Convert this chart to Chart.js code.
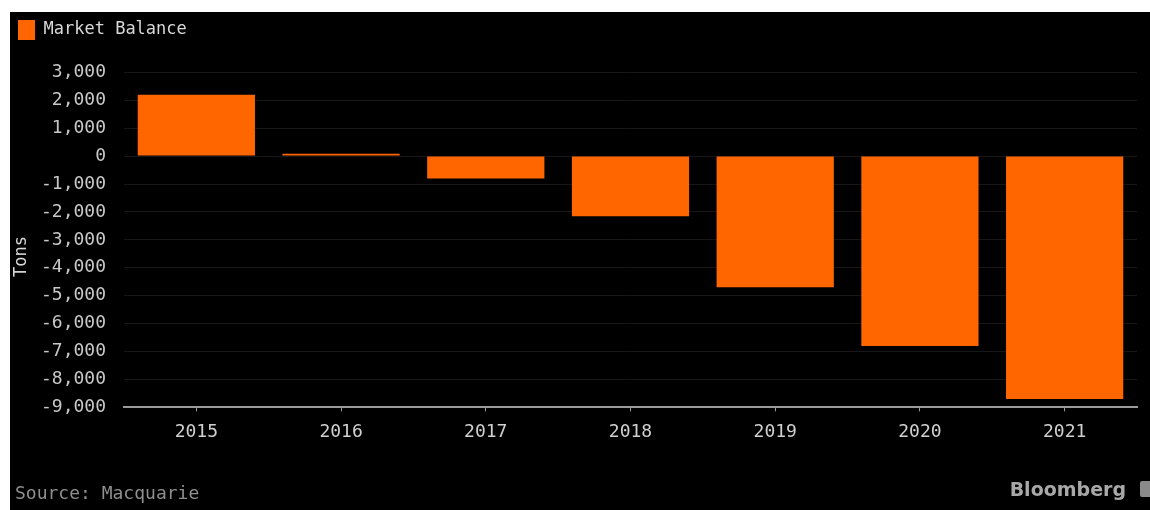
<!DOCTYPE html>
<html>
<head>
<meta charset="utf-8">
<script src="https://cdn.jsdelivr.net/npm/chart.js@4.4.0/dist/chart.umd.min.js"></script>
<style>
  html, body { margin: 0; padding: 0; background: #fff; }
  body { width: 1150px; height: 510px; position: relative; overflow: hidden; }
  #panel { position: absolute; left: 10px; top: 12px; width: 1140px; height: 498px; background: #000; }
  #panel canvas { position: absolute; left: 0; top: 0; }
  .note { position: absolute; font-family: "DejaVu Sans Mono", monospace; }
  #unit { font-size: 17px; color: #d8d8d8; transform: rotate(-90deg); transform-origin: left top; top: 265px; left: 0px; }
  #source { left: 5px; top: 470px; font-size: 18px; color: #8f8f8f; }
  #brand { right: 24px; top: 466px; font-family: "DejaVu Sans", sans-serif; font-weight: bold; font-size: 19px; color: #a8a8a8; }
  #brand-mark { position: absolute; right: -2px; top: 469px; width: 12px; height: 16px; background: #8a8a8a; border-radius: 2px; }
</style>
</head>
<body>
<div id="panel">
  <canvas id="balanceChart" width="1140" height="498"></canvas>
  <div class="note" id="unit">Tons</div>
  <div class="note" id="source">Source: Macquarie</div>
  <div class="note" id="brand">Bloomberg</div>
  <div id="brand-mark"></div>
</div>
<script>
// market balance by year, tons
const years = ['2015', '2016', '2017', '2018', '2019', '2020', '2021'];
const balance = [2200, 80, -800, -2150, -4700, -6800, -8700];
const yTicks = [3000, 2000, 1000, 0, -1000, -2000, -3000, -4000, -5000, -6000, -7000, -8000, -9000];

const mono = "'DejaVu Sans Mono', monospace";

new Chart(document.getElementById('balanceChart').getContext('2d'), {
    type: 'bar',
    data: {
        labels: years,
        datasets: [{
            label: 'Market Balance',
            data: balance,
            backgroundColor: '#ff6600',
            borderWidth: 0,
            categoryPercentage: 1,
            barPercentage: 0.81
        }]
    },
    options: {
        responsive: false,
        animation: false,
        layout: { padding: { left: 0, right: 13, top: 0, bottom: 57 } },
        scales: {
            y: {
                min: -9000,
                max: 3800,
                afterBuildTicks: (scale) => {
                    scale.ticks = yTicks.map(v => ({ value: v }));
                },
                afterFit: (scale) => { scale.width = 114; },
                grid: { color: '#171717', drawTicks: false },
                border: { display: false },
                ticks: {
                    color: '#c8c8c8',
                    padding: 18,
                    font: { family: mono, size: 18 },
                    callback: (v) => v.toLocaleString('en-US')
                }
            },
            x: {
                grid: { drawOnChartArea: false, offset: false, color: '#9a9a9a', tickLength: 4 },
                border: { color: '#9a9a9a', width: 2 },
                ticks: {
                    color: '#d0d0d0',
                    padding: 10,
                    font: { family: mono, size: 18 }
                }
            }
        },
        plugins: {
            legend: {
                position: 'top',
                align: 'start',
                labels: {
                    color: '#d8d8d8',
                    boxWidth: 17,
                    boxHeight: 20,
                    padding: 8,
                    font: { family: mono, size: 17 }
                }
            },
            tooltip: { enabled: false }
        }
    }
});
</script>
</body>
</html>
